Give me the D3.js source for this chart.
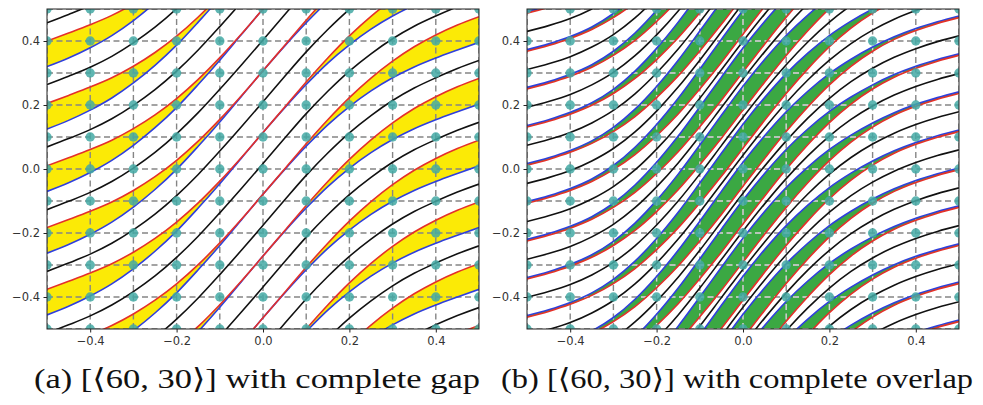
<!DOCTYPE html>
<html>
<head>
<meta charset="utf-8">
<script src="https://cdnjs.cloudflare.com/ajax/libs/d3/7.8.5/d3.min.js"></script>
<style>
body{margin:0;background:#fff;}
svg{display:block;}
.tick text{font-family:"DejaVu Sans",sans-serif;font-size:11.5px;fill:#333;}
.caption{font-family:"Liberation Serif","DejaVu Serif",serif;font-size:28px;fill:#111;}
</style>
</head>
<body>
<svg id="chart" width="983" height="405"></svg>
<script>
// x positions where every curve was sampled
var xs = [-0.5,-0.45,-0.4,-0.35,-0.3,-0.25,-0.2,-0.15,-0.1,-0.05,0,0.05,0.1,0.15,0.2,0.25,0.3,0.35,0.4,0.45,0.5];

// (a) complete gap : rise of each curve above its value at x=-0.5
var gapRedShape   = [0,0.025,0.051,0.080,0.116,0.159,0.210,0.270,0.338,0.412,0.490,0.569,0.648,0.723,0.792,0.853,0.906,0.951,0.988,1.019,1.045];
var gapBlueShape  = [0,0.027,0.059,0.097,0.144,0.199,0.262,0.334,0.410,0.490,0.570,0.647,0.720,0.787,0.844,0.893,0.934,0.968,0.996,1.021,1.045];
var gapBlackShape = [0,0.026,0.054,0.088,0.130,0.179,0.237,0.303,0.376,0.452,0.530,0.609,0.686,0.756,0.819,0.873,0.920,0.959,0.991,1.020,1.045];
// value of each curve at the left edge
var gapRedStart   = [0.593,0.4,0.205,0.01,-0.183,-0.376,-0.569,-0.762,-0.955,-1.148,-1.341,-1.534];
var gapBlueStart  = [0.513,0.32,0.125,-0.07,-0.263,-0.456,-0.649,-0.842,-1.035,-1.228,-1.421,-1.614];
var gapBlackStart = [0.457,0.264,0.069,-0.127,-0.32,-0.513,-0.706,-0.899,-1.092,-1.285,-1.478,-1.671];

// (b) complete overlap
var lapRedShape   = [0,0.018,0.040,0.068,0.105,0.152,0.211,0.279,0.357,0.440,0.528,0.615,0.699,0.776,0.845,0.903,0.950,0.987,1.015,1.037,1.055];
var lapBlueShape  = [0,0.018,0.041,0.071,0.113,0.170,0.241,0.323,0.414,0.507,0.598,0.681,0.756,0.820,0.875,0.920,0.958,0.990,1.016,1.037,1.055];
var lapBlackShape = [0,0.018,0.040,0.070,0.109,0.161,0.226,0.301,0.385,0.474,0.563,0.648,0.727,0.798,0.860,0.912,0.954,0.988,1.015,1.037,1.055];
var lapRedStart   = [0.606,0.487,0.368,0.250,0.131,0.012,-0.107,-0.225,-0.344,-0.463,-0.582,-0.700,-0.819,-0.938,-1.057,-1.175,-1.294,-1.413,-1.532];
var lapBlueStart  = [0.611,0.492,0.373,0.255,0.136,0.017,-0.102,-0.220,-0.339,-0.458,-0.577,-0.695,-0.814,-0.933,-1.052,-1.170,-1.289,-1.408,-1.527];
var lapBlackStart = [0.549,0.430,0.311,0.193,0.074,-0.045,-0.164,-0.282,-0.401,-0.520,-0.639,-0.757,-0.876,-0.995,-1.114,-1.232,-1.351,-1.470,-1.589];

var gridVals = [-0.5,-0.4,-0.3,-0.2,-0.1,0,0.1,0.2,0.3,0.4,0.5];
var tickVals = [-0.4,-0.2,0,0.2,0.4];
var captions = ["(a) [\u27E860, 30\u27E9] with complete gap","(b) [\u27E860, 30\u27E9] with complete overlap"];

var svg = d3.select("#chart");

function curvePoints(start, shape){
	return xs.map(function(v,i){ return {x:v, y:start+shape[i]}; });
}

function addGrid(sel, x, y, color){
	gridVals.forEach(function(v){
		sel.append("line").attr("x1",x(v)).attr("x2",x(v)).attr("y1",y(-0.5)).attr("y2",y(0.5))
			.attr("stroke",color).attr("stroke-width",1.4).attr("stroke-dasharray","6,3.5");
		sel.append("line").attr("x1",x(-0.5)).attr("x2",x(0.5)).attr("y1",y(v)).attr("y2",y(v))
			.attr("stroke",color).attr("stroke-width",1.4).attr("stroke-dasharray","6,3.5");
	});
}

function drawPanel(id, left, red, blue, black, fillColor, lightGrid, caption, capW){
	var x = d3.scaleLinear().domain([-0.5,0.5]).range([left,left+432]);
	var y = d3.scaleLinear().domain([-0.5,0.5]).range([329,9]);
	var g = svg.append("g");

	svg.append("clipPath").attr("id","clip"+id).append("rect")
		.attr("x",x(-0.5)).attr("y",y(0.5)).attr("width",x(0.5)-x(-0.5)).attr("height",y(-0.5)-y(0.5));

	var plot = g.append("g").attr("clip-path","url(#clip"+id+")");
	plot.append("rect").attr("x",x(-0.5)).attr("y",y(0.5)).attr("width",432).attr("height",320).attr("fill","#fff");

	// band between red and blue
	var area = d3.area().x(function(d){return x(d.x);}).y0(function(d){return y(d.r);}).y1(function(d){return y(d.b);}).curve(d3.curveMonotoneX);
	var bandClip = svg.append("clipPath").attr("id","band"+id);
	red.start.forEach(function(s,k){
		var pts = xs.map(function(v,i){ return {x:v, r:s+red.shape[i], b:blue.start[k]+blue.shape[i]}; });
		plot.append("path").attr("d",area(pts)).attr("fill",fillColor).attr("stroke","none");
		bandClip.append("path").attr("d",area(pts));
	});

	// dashed grid
	addGrid(plot, x, y, "#858585");
	if(lightGrid){
		addGrid(plot.append("g").attr("clip-path","url(#band"+id+")"), x, y, lightGrid);
	}

	var line = d3.line().x(function(d){return x(d.x);}).y(function(d){return y(d.y);}).curve(d3.curveMonotoneX);
	[[black,"#111"],[blue,"#2f3fdd"],[red,"#e4302a"]].forEach(function(c){
		c[0].start.forEach(function(s){
			plot.append("path").attr("d",line(curvePoints(s,c[0].shape)))
				.attr("fill","none").attr("stroke",c[1]).attr("stroke-width",1.6);
		});
	});

	// lattice points
	gridVals.forEach(function(a){
		gridVals.forEach(function(b){
			plot.append("circle").attr("cx",x(a)).attr("cy",y(b)).attr("r",4.7)
				.attr("fill","#43a9a5").attr("opacity",0.85);
		});
	});

	g.append("rect").attr("x",x(-0.5)).attr("y",y(0.5)).attr("width",432).attr("height",320)
		.attr("fill","none").attr("stroke","#222").attr("stroke-width",1);

	var fmt = d3.format(".1f");
	var ax = g.append("g").attr("transform","translate(0,"+y(-0.5)+")")
		.call(d3.axisBottom(x).tickValues(tickVals).tickFormat(fmt).tickSize(3.5).tickPadding(4));
	var ay = g.append("g").attr("transform","translate("+x(-0.5)+",0)")
		.call(d3.axisLeft(y).tickValues(tickVals).tickFormat(fmt).tickSize(3.5).tickPadding(3.5));
	ax.select(".domain").remove(); ay.select(".domain").remove();
	ax.selectAll("text").attr("font-family",null).attr("font-size",null);
	ay.selectAll("text").attr("font-family",null).attr("font-size",null);
	g.selectAll(".tick line").attr("stroke","#222");

	svg.append("text").attr("class","caption").attr("x",x(0)-6).attr("y",388)
		.attr("text-anchor","middle").attr("textLength",capW).attr("lengthAdjust","spacingAndGlyphs")
		.text(caption);
}

drawPanel("a",47,{shape:gapRedShape,start:gapRedStart},{shape:gapBlueShape,start:gapBlueStart},
	{shape:gapBlackShape,start:gapBlackStart},"#fbea06",null,captions[0],446);
drawPanel("b",527,{shape:lapRedShape,start:lapRedStart},{shape:lapBlueShape,start:lapBlueStart},
	{shape:lapBlackShape,start:lapBlackStart},"#3ba843","#cfd8cf",captions[1],472);
</script>
</body>
</html>
